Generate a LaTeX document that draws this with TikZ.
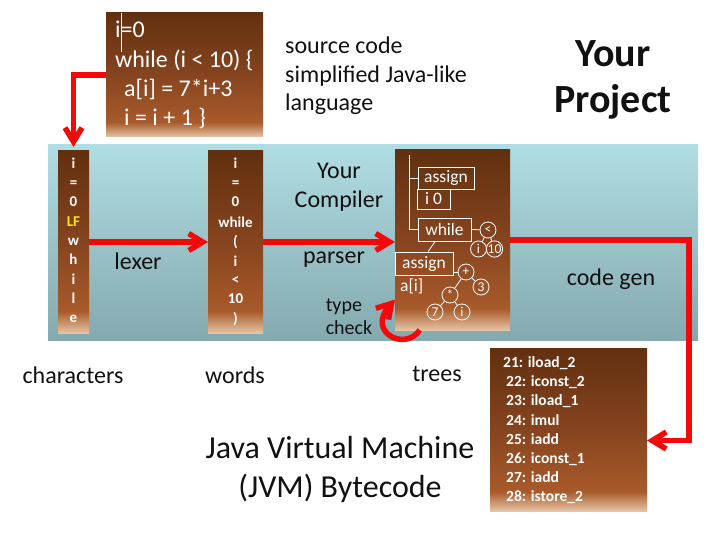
\documentclass[tikz,border=0pt]{standalone}
\usepackage{fontspec}
\setmainfont{Carlito}
\usetikzlibrary{arrows.meta}
\definecolor{bandtop}{HTML}{B0DDE3}
\definecolor{bandbot}{HTML}{84A9AE}
\definecolor{bdark}{HTML}{62300F}
\definecolor{bmid}{HTML}{86441F}
\definecolor{blight}{HTML}{A85A2A}
\definecolor{btan}{HTML}{E6C3A5}
\definecolor{arrred}{HTML}{F20A0A}
\definecolor{lfyellow}{HTML}{FFE21A}
\definecolor{ink}{HTML}{111111}
\pgfdeclareverticalshading{brownfade}{100bp}{color(0bp)=(btan); color(25bp)=(btan); color(31bp)=(blight); color(50bp)=(bmid); color(75bp)=(bdark); color(100bp)=(bdark)}
\begin{document}
\begin{tikzpicture}[x=1pt,y=-1pt,
  brownbox/.style={rectangle, shade, shading=brownfade, inner sep=0pt, outer sep=0pt},
  redarrow/.style={draw=arrred, line width=5.5pt, -{Straight Barb[length=14pt,width=17pt]}},
  lbl/.style={inner sep=0pt, text=ink, font=\fontsize{24}{28.5}\selectfont},
  srctext/.style={inner sep=0pt, anchor=base west, text=white, font=\fontsize{24}{28}\selectfont},
  coltext/.style={inner sep=0pt, anchor=base, text=white, font=\bfseries\fontsize{15}{18}\selectfont},
  bctext/.style={inner sep=0pt, anchor=base west, text=white, font=\bfseries\fontsize{15.5}{18}\selectfont},
  treeline/.style={draw=white, line width=0.8pt},
  tbox/.style={rectangle, draw=white, line width=0.8pt, inner sep=0pt, text=white, font=\fontsize{17.5}{20}\selectfont},
  tcirc/.style={circle, draw=white, line width=0.8pt, inner sep=0pt, minimum size=16pt, text=white, font=\fontsize{13.5}{15}\selectfont},
]
\useasboundingbox[fill=white] (0,0) rectangle (720,540);

% blue band
\shade[top color=bandtop, bottom color=bandbot] (48,145) rectangle (698,340);

% brown boxes
\node[brownbox, minimum width=157pt, minimum height=124pt] (src) at (184.5,75) {};
\node[brownbox, minimum width=31pt, minimum height=182pt] (chr) at (73.5,242) {};
\node[brownbox, minimum width=55pt, minimum height=182pt] (wrd) at (235.5,242) {};
\node[brownbox, minimum width=115pt, minimum height=180pt] (tree) at (452.5,240) {};
\node[brownbox, minimum width=157pt, minimum height=163pt] (bc) at (568.5,429.5) {};

% source code text
\draw[white, line width=0.6pt] (121,13) -- (121,52);
\node[srctext] (s1) at (115,38) {i=0};
\node[srctext] (s2) at (115,67.5) {while (i < 10) \{};
\node[srctext] (s3) at (124,97) {a[i] = 7*i+3};
\node[srctext] (s4) at (124,126) {i = i + 1 \}};

% characters column
\foreach \t/\y [count=\k] in {{i}/164,{=}/183,{0}/202,{\textcolor{lfyellow}{LF}}/221,{w}/240,{h}/259,{i}/279,{l}/298,{e}/317}
  \node[coltext] (ch\k) at (73.5,\y+5) {\t};

% words column
\foreach \t/\y [count=\k] in {{i}/164,{=}/183,{0}/202,{while}/222,{(}/242,{i}/261,{<}/279,{10}/298,{)}/318}
  \node[coltext] (wd\k) at (235.5,\y+5) {\t};

% tree
\node[tbox, minimum width=56pt, minimum height=22pt] (asg1) at (446,178) {assign};
\node[tbox, minimum width=33pt, minimum height=20pt] (izero) at (433.5,199) {i 0};
\node[tbox, minimum width=53pt, minimum height=23pt] (wh) at (444.5,229.5) {while};
\node[tcirc] (lt) at (488,230) {<};
\node[tcirc] (ci) at (478.5,249) {i};
\node[tcirc] (cten) at (494.5,249) {10};
\node[tbox, minimum width=58pt, minimum height=23pt] (asg2) at (424,263.5) {assign};
\node[inner sep=0pt, anchor=west, text=white, font=\fontsize{17.5}{20}\selectfont] (ai) at (400,286) {a[i]};
\node[tcirc] (plus) at (466,272) {+};
\node[tcirc] (three) at (481,287) {3};
\node[tcirc] (times) at (450,295) {*};
\node[tcirc] (seven) at (435,312) {7};
\node[tcirc] (ci2) at (462,312) {i};
\coordinate (trtop) at (409,155);
\coordinate (trmid) at (409,178);
\coordinate (trbot) at (409,229.5);
\draw[treeline] (trtop) -- (trbot) -- (wh.west);
\draw[treeline] (trmid) -- (asg1.west);
\draw[treeline] (wh.east) -- (lt);
\draw[treeline] (lt) -- (ci);
\draw[treeline] (lt) -- (cten);
\draw[treeline] (wh.232) -- (asg2.71);
\draw[treeline] (asg2.east |- plus) -- (plus);
\draw[treeline] (plus) -- (three);
\draw[treeline] (plus) -- (times);
\draw[treeline] (times) -- (seven);
\draw[treeline] (times) -- (ci2);

% bytecode
\node[bctext] (b1) at (503,367.5) {21: iload\_2};
\node[bctext] (b2) at (506,386.7) {22: iconst\_2};
\node[bctext] (b3) at (506,405.9) {23: iload\_1};
\node[bctext] (b4) at (506,425.1) {24: imul};
\node[bctext] (b5) at (506,444.3) {25: iadd};
\node[bctext] (b6) at (506,463.5) {26: iconst\_1};
\node[bctext] (b7) at (506,482.7) {27: iadd};
\node[bctext] (b8) at (506,501.9) {28: istore\_2};

% labels
\node[lbl, anchor=base west] (sc1) at (285,54) {source code};
\node[lbl, anchor=base west] (sc2) at (285,83) {simplified Java-like};
\node[lbl, anchor=base west] (sc3) at (285,111) {language};
\node[lbl, align=center, font=\bfseries\fontsize{40}{46}\selectfont] (proj) at (613,80) {Your\\Project};
\node[lbl, align=center] (comp) at (339,187) {Your\\Compiler};
\node[lbl] (lexer) at (138,261) {lexer};
\node[lbl] (parser) at (334,260) {parser};
\node[lbl, align=left, font=\fontsize{20}{23}\selectfont] (tc) at (349,317) {type\\check};
\node[lbl] (cgen) at (611,279) {code gen};
\node[lbl] (lchars) at (73,375) {characters};
\node[lbl] (lwords) at (235,375) {words};
\node[lbl] (ltrees) at (437,374) {trees};
\node[lbl, align=center, font=\fontsize{32}{39}\selectfont] (jvm) at (340,469) {Java Virtual Machine\\(JVM) Bytecode};

% arrows
\coordinate (cg) at (689,0);
\draw[redarrow, shorten >=4pt] (src.west) -| (chr.north);
\draw[redarrow] (chr.east) -- (wrd.west);
\draw[redarrow] (wrd.east) -- (wrd.east -| tree.west);
\draw[redarrow] (tree.east) -- (tree.east -| cg) |- (bc.-8);
\draw[redarrow] (tree.250) .. controls (405,352) and (366,332) .. (tree.226);
\end{tikzpicture}
\end{document}
